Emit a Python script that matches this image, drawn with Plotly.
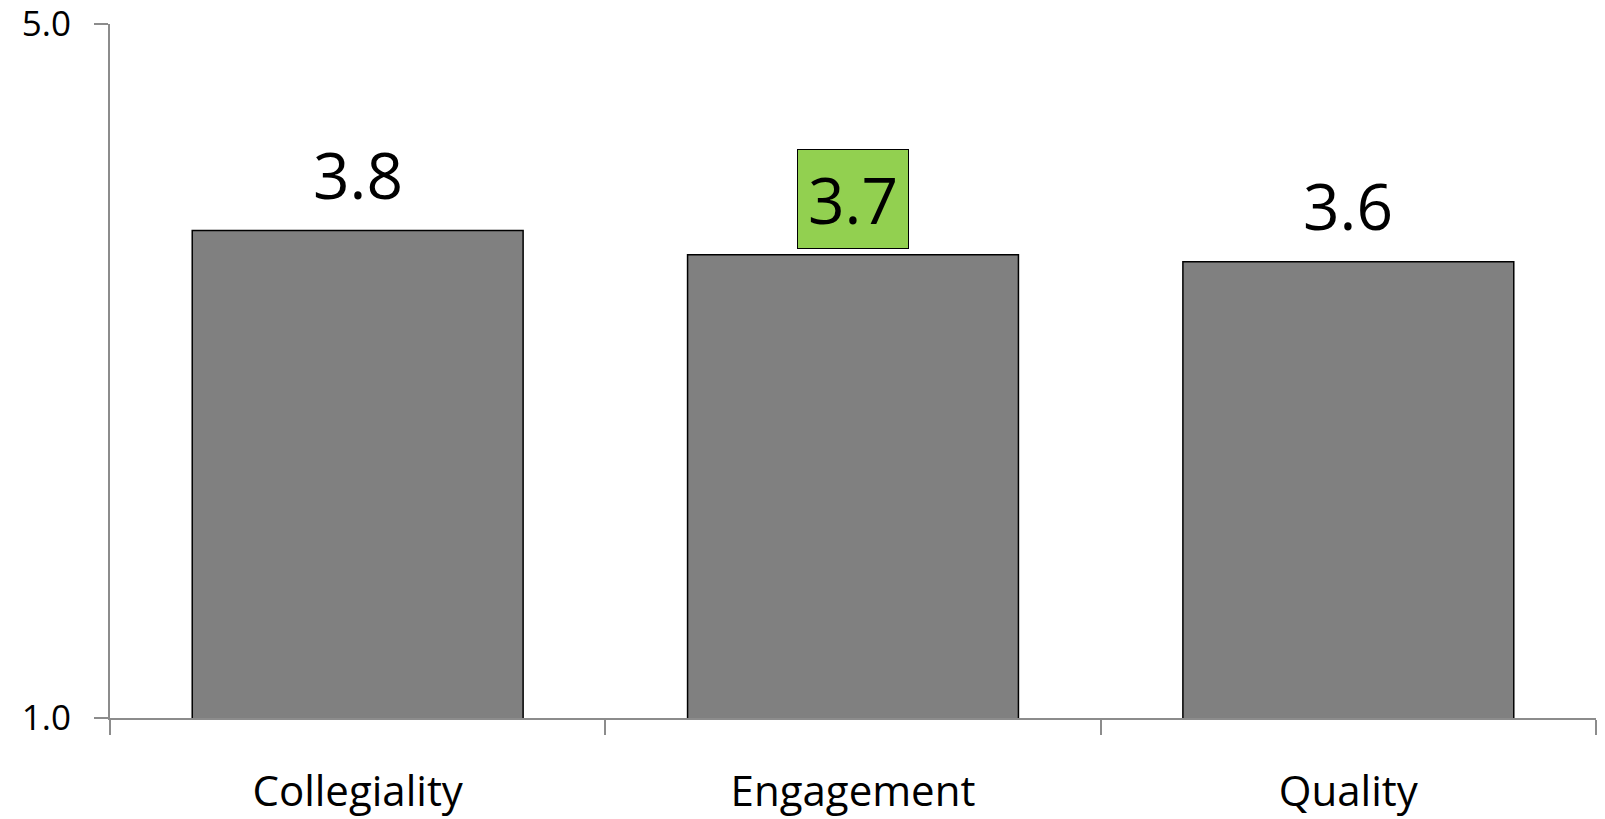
import plotly.graph_objects as go

# Survey dimension scores (1–5 scale)
categories = ["Collegiality", "Engagement", "Quality"]
scores = [3.81, 3.67, 3.63]
highlighted = ["Engagement"]

y_ticks = [1.0, 5.0]

FONT = "Open Sans"
AXIS_GRAY = "#8c8c8c"

fig = go.Figure(
    go.Bar(
        x=categories,
        y=scores,
        base=0,
        marker=dict(color="#808080", line=dict(color="#000000", width=1.5)),
        width=0.668,
        hoverinfo="skip",
    )
)

# Value labels above each bar; the highlighted one sits in a green box
for cat, val in zip(categories, scores):
    boxed = cat in highlighted
    fig.add_annotation(
        x=cat,
        y=val,
        text=f"{val:.1f}",
        showarrow=False,
        yanchor="middle",
        yshift=56,
        font=dict(family=FONT, size=64, color="#000000"),
        bgcolor="#92D050" if boxed else "rgba(0,0,0,0)",
        bordercolor="#000000" if boxed else "rgba(0,0,0,0)",
        borderwidth=1 if boxed else 0,
        borderpad=1,
        width=108 if boxed else None,
        height=96 if boxed else None,
    )

fig.update_xaxes(
    type="category",
    automargin=False,
    showline=True,
    linecolor=AXIS_GRAY,
    linewidth=2,
    ticks="outside",
    tickson="boundaries",
    ticklen=15,
    tickwidth=2,
    tickcolor=AXIS_GRAY,
    showgrid=False,
    ticklabelstandoff=36,
    tickfont=dict(family=FONT, size=42, color="#000000"),
)

fig.update_yaxes(
    range=[1, 5],
    automargin=False,
    tickvals=y_ticks,
    ticktext=[f"{v:.1f}" for v in y_ticks],
    showline=True,
    linecolor=AXIS_GRAY,
    linewidth=2,
    ticks="outside",
    ticklen=14,
    tickwidth=2,
    tickcolor=AXIS_GRAY,
    showgrid=True,
    gridcolor="#D9D9D9",
    gridwidth=1.5,
    zeroline=False,
    ticklabelstandoff=16,
    ticklabeloverflow="allow",
    tickfont=dict(family=FONT, size=35, color="#000000"),
)

fig.update_layout(
    width=1605,
    height=819,
    margin=dict(l=110, r=9, t=24, b=101),
    paper_bgcolor="#ffffff",
    plot_bgcolor="#ffffff",
    showlegend=False,
    bargap=0.332,
)

fig.write_html("out.html", config={"displayModeBar": False})
